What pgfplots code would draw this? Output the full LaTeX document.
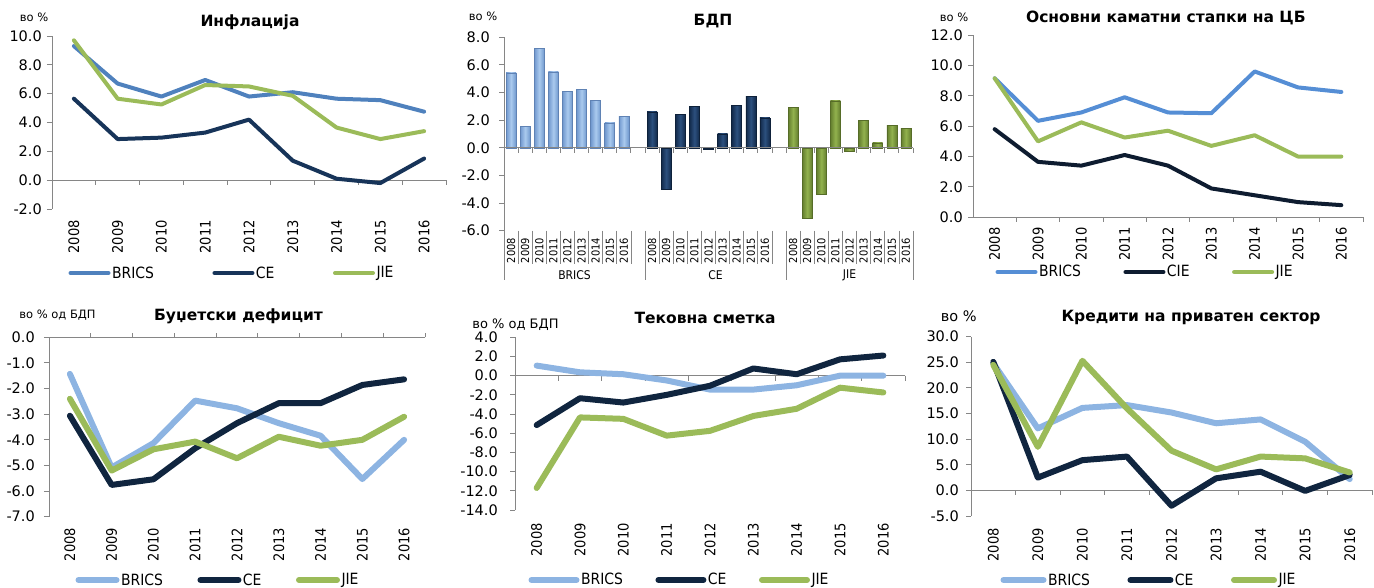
\documentclass[border=0pt]{standalone}
\usepackage{fontspec}
\setmainfont{DejaVu Sans}
\newfontfamily\cond{DejaVu Sans Condensed}
\usepackage{pgfplots}
\pgfplotsset{compat=1.18}

\definecolor{axgray}{RGB}{134,134,134}
\definecolor{brA}{RGB}{79,129,189}
\definecolor{brB}{RGB}{85,142,213}
\definecolor{brL}{RGB}{141,180,226}
\definecolor{ceA}{RGB}{23,52,89}
\definecolor{ceB}{RGB}{14,28,48}
\definecolor{ceC}{RGB}{16,37,63}
\definecolor{jie}{RGB}{155,187,89}
\definecolor{bbM}{RGB}{170,202,238}
\definecolor{bbE}{RGB}{112,152,206}
\definecolor{bbD}{RGB}{95,130,180}
\definecolor{cbM}{RGB}{44,80,126}
\definecolor{cbE}{RGB}{18,42,75}
\definecolor{cbD}{RGB}{14,33,58}
\definecolor{jbM}{RGB}{146,178,78}
\definecolor{jbE}{RGB}{100,126,46}
\definecolor{jbD}{RGB}{86,108,40}

\newcommand\tickf{\fontsize{14.5}{17}\selectfont}
\newcommand\yearf{\cond\fontsize{14.5}{17}\selectfont}
\newcommand\smyearf{\cond\fontsize{11}{12}\selectfont}
\newcommand\legf{\cond\fontsize{15.5}{18}\selectfont}
\newcommand\titf{\bfseries\fontsize{15.5}{18}\selectfont}

\pgfplotsset{
  panel/.style={scale only axis, anchor=south west, clip=false,
    axis y line=left, axis x line=bottom,
    x axis line style={draw=none},
    y axis line style={-, draw=axgray, line width=0.9pt},
    xtick style={draw=none},
    ytick style={draw=axgray, line width=0.9pt},
    tick align=outside, major tick length=5pt,
    xmin=-0.5, xmax=8.5, xtick={0,1,2,3,4,5,6,7,8},
    xticklabels={2008,2009,2010,2011,2012,2013,2014,2015,2016},
    xticklabel style={rotate=90, anchor=east, font=\yearf, inner sep=0pt},
    yticklabel style={font=\tickf, inner sep=0pt},
    legend columns=3,
    legend style={draw=none, fill=none, anchor=west, inner sep=0pt, outer sep=0pt,
      nodes={inner sep=1.5pt}, font=\legf},
    legend cell align=left,
  },
  leg/.style 2 args={legend image code/.code={\draw[##1] (0pt,0pt) -- (#1pt,0pt);},
    legend style={/tikz/every even column/.append style={column sep=#2pt}}},
  ln/.style={line width=#1, line join=round, line cap=round},
  gbar/.style n args={3}{ybar, bar width=10pt, bar shift=0pt, draw=#3, line width=0.6pt,
    left color=#2, right color=#2, middle color=#1},
  bB/.style={gbar={bbM}{bbE}{bbD}},
  bC/.style={gbar={cbM}{cbE}{cbD}},
  bJ/.style={gbar={jbM}{jbE}{jbD}},
}

\begin{document}
\begin{tikzpicture}[x=1pt,y=1pt]
\useasboundingbox (0,0) rectangle (1374,587);

% ---------------- Panel 1: Inflation
\begin{axis}[panel, at={(52pt,378pt)}, width=394pt, height=173pt,
  ymin=-2, ymax=10, ytick={-2,0,2,4,6,8,10},
  yticklabels={-2.0,0.0,2.0,4.0,6.0,8.0,10.0},
  xticklabel shift=6pt, yticklabel shift=5pt,
  leg={38}{57}, legend style={at={(0.0419,-0.370)}}]
\draw[axgray, line width=0.9pt] (axis cs:-0.5,0) -- (axis cs:8.5,0);
\pgfplotsinvokeforeach{0.5,1.5,2.5,3.5,4.5,5.5,6.5,7.5,8.5}{
  \draw[axgray, line width=0.9pt] (axis cs:#1,0) -- ([yshift=-5pt]axis cs:#1,0);}
\addplot[brA, ln=4pt] coordinates {(0,9.3)(1,6.7)(2,5.8)(3,6.95)(4,5.8)(5,6.1)(6,5.65)(7,5.55)(8,4.75)};
\addlegendentry{BRICS}
\addplot[ceA, ln=4pt] coordinates {(0,5.65)(1,2.85)(2,2.95)(3,3.3)(4,4.2)(5,1.35)(6,0.1)(7,-0.2)(8,1.5)};
\addlegendentry{CE}
\addplot[jie, ln=4pt] coordinates {(0,9.7)(1,5.65)(2,5.25)(3,6.6)(4,6.5)(5,5.85)(6,3.65)(7,2.85)(8,3.4)};
\addlegendentry{JIE}
\end{axis}
\node[font=\titf, inner sep=0pt] at (250,565) {Инфлација};
\node[font=\fontsize{11.5}{14}\selectfont, inner sep=0pt] at (34,569.5) {во \%};

% ---------------- Panel 2: GDP
\begin{axis}[panel, at={(504pt,356.3pt)}, width=409pt, height=193.4pt,
  xmin=-0.5, xmax=28.5, ymin=-6, ymax=8,
  xtick={0,1,2,3,4,5,6,7,8,10,11,12,13,14,15,16,17,18,20,21,22,23,24,25,26,27,28},
  xticklabels={2008,2009,2010,2011,2012,2013,2014,2015,2016,2008,2009,2010,2011,2012,2013,2014,2015,2016,2008,2009,2010,2011,2012,2013,2014,2015,2016},
  xticklabel style={font=\smyearf}, xticklabel shift=2pt,
  ytick={-6,-4,-2,0,2,4,6,8},
  yticklabels={-6.0,-4.0,-2.0,0.0,2.0,4.0,6.0,8.0}, yticklabel shift=9pt]
\pgfplotsinvokeforeach{0.5,1.5,2.5,3.5,4.5,5.5,6.5,7.5,8.5,10.5,11.5,12.5,13.5,14.5,15.5,16.5,17.5,18.5,20.5,21.5,22.5,23.5,24.5,25.5,26.5,27.5}{
  \draw[axgray, line width=0.8pt] (axis cs:#1,-6) -- ([yshift=-33pt]axis cs:#1,-6);}
\pgfplotsinvokeforeach{-0.5,9.5,19.5,28.5}{
  \draw[axgray, line width=0.8pt] (axis cs:#1,-6) -- ([yshift=-49pt]axis cs:#1,-6);}
% BRICS
\addplot[bB] coordinates {(0,5.43)};
\addplot[bB] coordinates {(1,1.57)};
\addplot[bB] coordinates {(2,7.2)};
\addplot[bB] coordinates {(3,5.5)};
\addplot[bB] coordinates {(4,4.1)};
\addplot[bB] coordinates {(5,4.22)};
\addplot[bB] coordinates {(6,3.45)};
\addplot[bB] coordinates {(7,1.81)};
\addplot[bB] coordinates {(8,2.25)};
% CE
\addplot[bC] coordinates {(10,2.6)};
\addplot[bC] coordinates {(11,-2.97)};
\addplot[bC] coordinates {(12,2.4)};
\addplot[bC] coordinates {(13,2.97)};
\addplot[bC] coordinates {(14,-0.1)};
\addplot[bC] coordinates {(15,1.01)};
\addplot[bC] coordinates {(16,3.09)};
\addplot[bC] coordinates {(17,3.72)};
\addplot[bC] coordinates {(18,2.17)};
% JIE
\addplot[bJ] coordinates {(20,2.9)};
\addplot[bJ] coordinates {(21,-5.07)};
\addplot[bJ] coordinates {(22,-3.38)};
\addplot[bJ] coordinates {(23,3.4)};
\addplot[bJ] coordinates {(24,-0.28)};
\addplot[bJ] coordinates {(25,2.0)};
\addplot[bJ] coordinates {(26,0.36)};
\addplot[bJ] coordinates {(27,1.62)};
\addplot[bJ] coordinates {(28,1.38)};
\draw[axgray, line width=0.9pt] (axis cs:-0.5,0) -- (axis cs:28.5,0);
\pgfplotsinvokeforeach{0.5,1.5,2.5,3.5,4.5,5.5,6.5,7.5,8.5,9.5,10.5,11.5,12.5,13.5,14.5,15.5,16.5,17.5,18.5,19.5,20.5,21.5,22.5,23.5,24.5,25.5,26.5,27.5,28.5}{
  \draw[axgray, line width=0.9pt] (axis cs:#1,0) -- ([yshift=-5pt]axis cs:#1,0);}
\end{axis}
\node[font=\titf, inner sep=0pt] at (713,566) {БДП};
\node[font=\fontsize{11.5}{14}\selectfont, inner sep=0pt] at (483,570.3) {во \%};
\node[font=\cond\fontsize{12}{14}\selectfont, inner sep=0pt] at (574.5,312) {BRICS};
\node[font=\cond\fontsize{12}{14}\selectfont, inner sep=0pt] at (715.5,312) {CE};
\node[font=\cond\fontsize{12}{14}\selectfont, inner sep=0pt] at (849.5,312) {JIE};

% ---------------- Panel 3: policy rates
\begin{axis}[panel, at={(973pt,369.7pt)}, width=390pt, height=182.3pt,
  ymin=0, ymax=12, ytick={0,2,4,6,8,10,12},
  yticklabels={0.0,2.0,4.0,6.0,8.0,10.0,12.0},
  xticklabel shift=5pt, yticklabel shift=5pt,
  leg={38}{41}, legend style={at={(0.0577,-0.300)}}]
\draw[axgray, line width=0.9pt] (axis cs:-0.5,0) -- (axis cs:8.5,0);
\pgfplotsinvokeforeach{0.5,1.5,2.5,3.5,4.5,5.5,6.5,7.5,8.5}{
  \draw[axgray, line width=0.9pt] (axis cs:#1,0) -- ([yshift=-5pt]axis cs:#1,0);}
\addplot[brB, ln=4pt] coordinates {(0,9.15)(1,6.35)(2,6.9)(3,7.9)(4,6.9)(5,6.85)(6,9.6)(7,8.55)(8,8.25)};
\addlegendentry{BRICS}
\addplot[ceB, ln=4pt] coordinates {(0,5.8)(1,3.65)(2,3.4)(3,4.1)(4,3.4)(5,1.9)(6,1.45)(7,1.0)(8,0.8)};
\addlegendentry{CIE}
\addplot[jie, ln=4pt] coordinates {(0,9.15)(1,5.0)(2,6.25)(3,5.25)(4,5.7)(5,4.7)(6,5.4)(7,4.0)(8,4.0)};
\addlegendentry{JIE}
\end{axis}
\node[font=\titf, inner sep=0pt] at (1165.8,568.7) {Основни каматни стапки на ЦБ};
\node[font=\fontsize{11.5}{14}\selectfont, inner sep=0pt] at (954,570) {во \%};

% ---------------- Panel 4: budget deficit
\begin{axis}[panel, at={(49pt,70.3pt)}, width=376pt, height=179.4pt,
  ymin=-7, ymax=0, ytick={-7,-6,-5,-4,-3,-2,-1,0},
  yticklabels={-7.0,-6.0,-5.0,-4.0,-3.0,-2.0,-1.0,0.0},
  xticklabel shift=6pt, yticklabel shift=9pt,
  leg={38}{33}, legend style={at={(0.0705,-0.353)}}]
\draw[axgray, line width=0.9pt] (axis cs:-0.5,0) -- (axis cs:8.5,0);
\pgfplotsinvokeforeach{0.5,1.5,2.5,3.5,4.5,5.5,6.5,7.5,8.5}{
  \draw[axgray, line width=0.9pt] (axis cs:#1,0) -- ([yshift=4pt]axis cs:#1,0);}
\addplot[brL, ln=6pt] coordinates {(0,-1.43)(1,-5.08)(2,-4.13)(3,-2.47)(4,-2.77)(5,-3.35)(6,-3.84)(7,-5.53)(8,-4.0)};
\addlegendentry{BRICS}
\addplot[ceC, ln=6pt] coordinates {(0,-3.06)(1,-5.76)(2,-5.54)(3,-4.33)(4,-3.35)(5,-2.57)(6,-2.57)(7,-1.86)(8,-1.64)};
\addlegendentry{CE}
\addplot[jie, ln=6pt] coordinates {(0,-2.4)(1,-5.2)(2,-4.37)(3,-4.07)(4,-4.72)(5,-3.88)(6,-4.23)(7,-4.0)(8,-3.1)};
\addlegendentry{JIE}
\end{axis}
\node[font=\titf, inner sep=0pt] at (238.5,270.3) {Буџетски дефицит};
\node[font=\fontsize{11.5}{14}\selectfont, inner sep=0pt] at (57.5,272) {во \% од БДП};

% ---------------- Panel 5: current account
\begin{axis}[panel, at={(515pt,77pt)}, width=390pt, height=172.7pt,
  ymin=-14, ymax=4, ytick={-14,-12,-10,-8,-6,-4,-2,0,2,4},
  yticklabels={-14.0,-12.0,-10.0,-8.0,-6.0,-4.0,-2.0,0.0,2.0,4.0},
  xticklabel shift=8pt, yticklabel shift=12pt,
  leg={45}{31}, legend style={at={(0.0346,-0.405)}}]
\draw[axgray, line width=0.9pt] (axis cs:-0.5,0) -- (axis cs:8.5,0);
\pgfplotsinvokeforeach{0.5,1.5,2.5,3.5,4.5,5.5,6.5,7.5,8.5}{
  \draw[axgray, line width=0.9pt] (axis cs:#1,0) -- ([yshift=-5pt]axis cs:#1,0);}
\addplot[brL, ln=6pt] coordinates {(0,1.05)(1,0.35)(2,0.15)(3,-0.5)(4,-1.45)(5,-1.45)(6,-1.0)(7,0)(8,0)};
\addlegendentry{BRICS}
\addplot[ceC, ln=6pt] coordinates {(0,-5.15)(1,-2.35)(2,-2.8)(3,-2.0)(4,-1.05)(5,0.75)(6,0.15)(7,1.7)(8,2.1)};
\addlegendentry{CE}
\addplot[jie, ln=6pt] coordinates {(0,-11.7)(1,-4.35)(2,-4.5)(3,-6.25)(4,-5.75)(5,-4.2)(6,-3.45)(7,-1.25)(8,-1.75)};
\addlegendentry{JIE}
\end{axis}
\node[font=\titf, inner sep=0pt] at (705,269) {Тековна сметка};
\node[font=\fontsize{13}{15}\selectfont, inner sep=0pt] at (515.5,262) {во \% од БДП};

% ---------------- Panel 6: credit
\begin{axis}[panel, at={(971pt,71pt)}, width=401pt, height=179.3pt,
  ymin=-5, ymax=30, ytick={-5,0,5,10,15,20,25,30},
  yticklabels={-5.0,0.0,5.0,10.0,15.0,20.0,25.0,30.0},
  xticklabel shift=7pt, yticklabel shift=7pt,
  leg={40}{36}, legend style={at={(0.0736,-0.357)}}]
\draw[axgray, line width=0.9pt] (axis cs:-0.5,0) -- (axis cs:8.5,0);
\pgfplotsinvokeforeach{0.5,1.5,2.5,3.5,4.5,5.5,6.5,7.5,8.5}{
  \draw[axgray, line width=0.9pt] (axis cs:#1,0) -- ([yshift=-5pt]axis cs:#1,0);}
\addplot[brL, ln=6pt] coordinates {(0,24.8)(1,12.1)(2,16.1)(3,16.65)(4,15.2)(5,13.1)(6,13.85)(7,9.5)(8,2.2)};
\addlegendentry{BRICS}
\addplot[ceC, ln=6pt] coordinates {(0,25.1)(1,2.5)(2,5.9)(3,6.6)(4,-3.0)(5,2.35)(6,3.65)(7,-0.1)(8,3.0)};
\addlegendentry{CE}
\addplot[jie, ln=6pt] coordinates {(0,24.5)(1,8.5)(2,25.3)(3,16.0)(4,7.75)(5,4.1)(6,6.6)(7,6.25)(8,3.5)};
\addlegendentry{JIE}
\end{axis}
\node[font=\titf, inner sep=0pt] at (1191,269.5) {Кредити на приватен сектор};
\node[font=\fontsize{14.5}{17}\selectfont, inner sep=0pt] at (958.7,270.3) {во \%};

\end{tikzpicture}
\end{document}
